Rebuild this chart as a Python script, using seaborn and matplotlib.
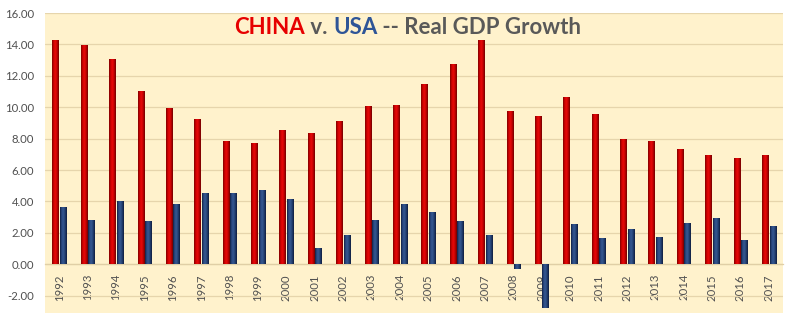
import matplotlib
matplotlib.use("Agg")
import matplotlib.pyplot as plt
from matplotlib.colors import LinearSegmentedColormap
import numpy as np
import pandas as pd
import seaborn as sns

years = ["1992", "1993", "1994", "1995", "1996", "1997", "1998", "1999", "2000",
         "2001", "2002", "2003", "2004", "2005", "2006", "2007", "2008", "2009",
         "2010", "2011", "2012", "2013", "2014", "2015", "2016", "2017"]
china = [14.2, 13.9, 13.0, 11.0, 9.9, 9.2, 7.8, 7.7, 8.5, 8.3, 9.1, 10.0, 10.1,
         11.4, 12.7, 14.2, 9.7, 9.4, 10.6, 9.5, 7.9, 7.8, 7.3, 6.9, 6.7, 6.9]
usa = [3.6, 2.8, 4.0, 2.7, 3.8, 4.5, 4.5, 4.7, 4.1, 1.0, 1.8, 2.8, 3.8,
       3.3, 2.7, 1.8, -0.3, -2.8, 2.5, 1.6, 2.2, 1.7, 2.6, 2.9, 1.5, 2.4]
y_ticks = [-2, 0, 2, 4, 6, 8, 10, 12, 14, 16]

df = pd.DataFrame({
    "year": years * 2,
    "growth": china + usa,
    "country": ["CHINA"] * len(years) + ["USA"] * len(years),
})

sns.set_style("white")
plt.rcParams["font.family"] = ["Lato", "DejaVu Sans"]

W, H = 803, 333
fig = plt.figure(figsize=(W / 100, H / 100), dpi=100)
ax = fig.add_axes([45 / W, 1 - 313 / H, (783 - 45) / W, 300 / H])
ax.set_facecolor("#FFF2CC")

palette = {"CHINA": "#CC0000", "USA": "#24427A"}
sns.barplot(data=df, x="year", y="growth", hue="country", palette=palette,
            hue_order=["CHINA", "USA"], width=0.53, gap=0.2, legend=False,
            saturation=1, ax=ax, zorder=3)

ax.set_ylim(-3.1, 16)
ax.set_xlim(-0.5, len(years) - 0.5)

# Cylinder-style shading across each bar
shades = {
    "CHINA": LinearSegmentedColormap.from_list(
        "cn", ["#7A0000", "#D00000", "#E80A0A", "#C00000", "#6E0000"]),
    "USA": LinearSegmentedColormap.from_list(
        "us", ["#101F40", "#2C4B85", "#35588F", "#223D70", "#0F1D3C"]),
}
grad = np.linspace(0, 1, 64).reshape(1, -1)
for cont, name in zip(ax.containers, ["CHINA", "USA"]):
    for bar in cont:
        x0, y0 = bar.get_x(), bar.get_y()
        w, h = bar.get_width(), bar.get_height()
        bar.set_facecolor("none")
        bar.set_edgecolor("none")
        ax.imshow(grad, cmap=shades[name], aspect="auto", zorder=3,
                  extent=(x0, x0 + w, min(y0, y0 + h), max(y0, y0 + h)),
                  interpolation="bilinear")
ax.set_ylim(-3.1, 16)
ax.set_xlim(-0.5, len(years) - 0.5)

ax.set_yticks(y_ticks)
ax.set_yticklabels([f"{v:.2f}" for v in y_ticks])
ax.yaxis.grid(True, color="#E6D5AC", linewidth=0.9, zorder=0)
ax.set_axisbelow(True)
for s in ["top", "right", "left"]:
    ax.spines[s].set_visible(False)
ax.spines["bottom"].set_position(("data", 0))
ax.spines["bottom"].set_color("#E0CFA6")
ax.spines["bottom"].set_linewidth(0.9)
ax.tick_params(axis="y", length=0, pad=8, labelsize=8.2, labelcolor="#505050")
ax.tick_params(axis="x", length=0, pad=7, labelsize=8.2, labelcolor="#505050",
               labelrotation=90)
ax.set_xlabel("")
ax.set_ylabel("")

# Multi-coloured title, laid out piece by piece and centred
pieces = [("CHINA", "#E60000"), (" v. ", "#595959"), ("USA", "#2E5597"),
          (" -- Real GDP Growth", "#595959")]
fig.canvas.draw()
renderer = fig.canvas.get_renderer()
texts = [fig.text(0, 1 - 27 / H, s, color=c, fontsize=16, fontweight="bold",
                  va="center", ha="left") for s, c in pieces]
widths = [t.get_window_extent(renderer).width for t in texts]
x = 408 - sum(widths) / 2
for t, w in zip(texts, widths):
    t.set_x(x / W)
    x += w

fig.savefig("out.png", dpi=100, facecolor="white")
